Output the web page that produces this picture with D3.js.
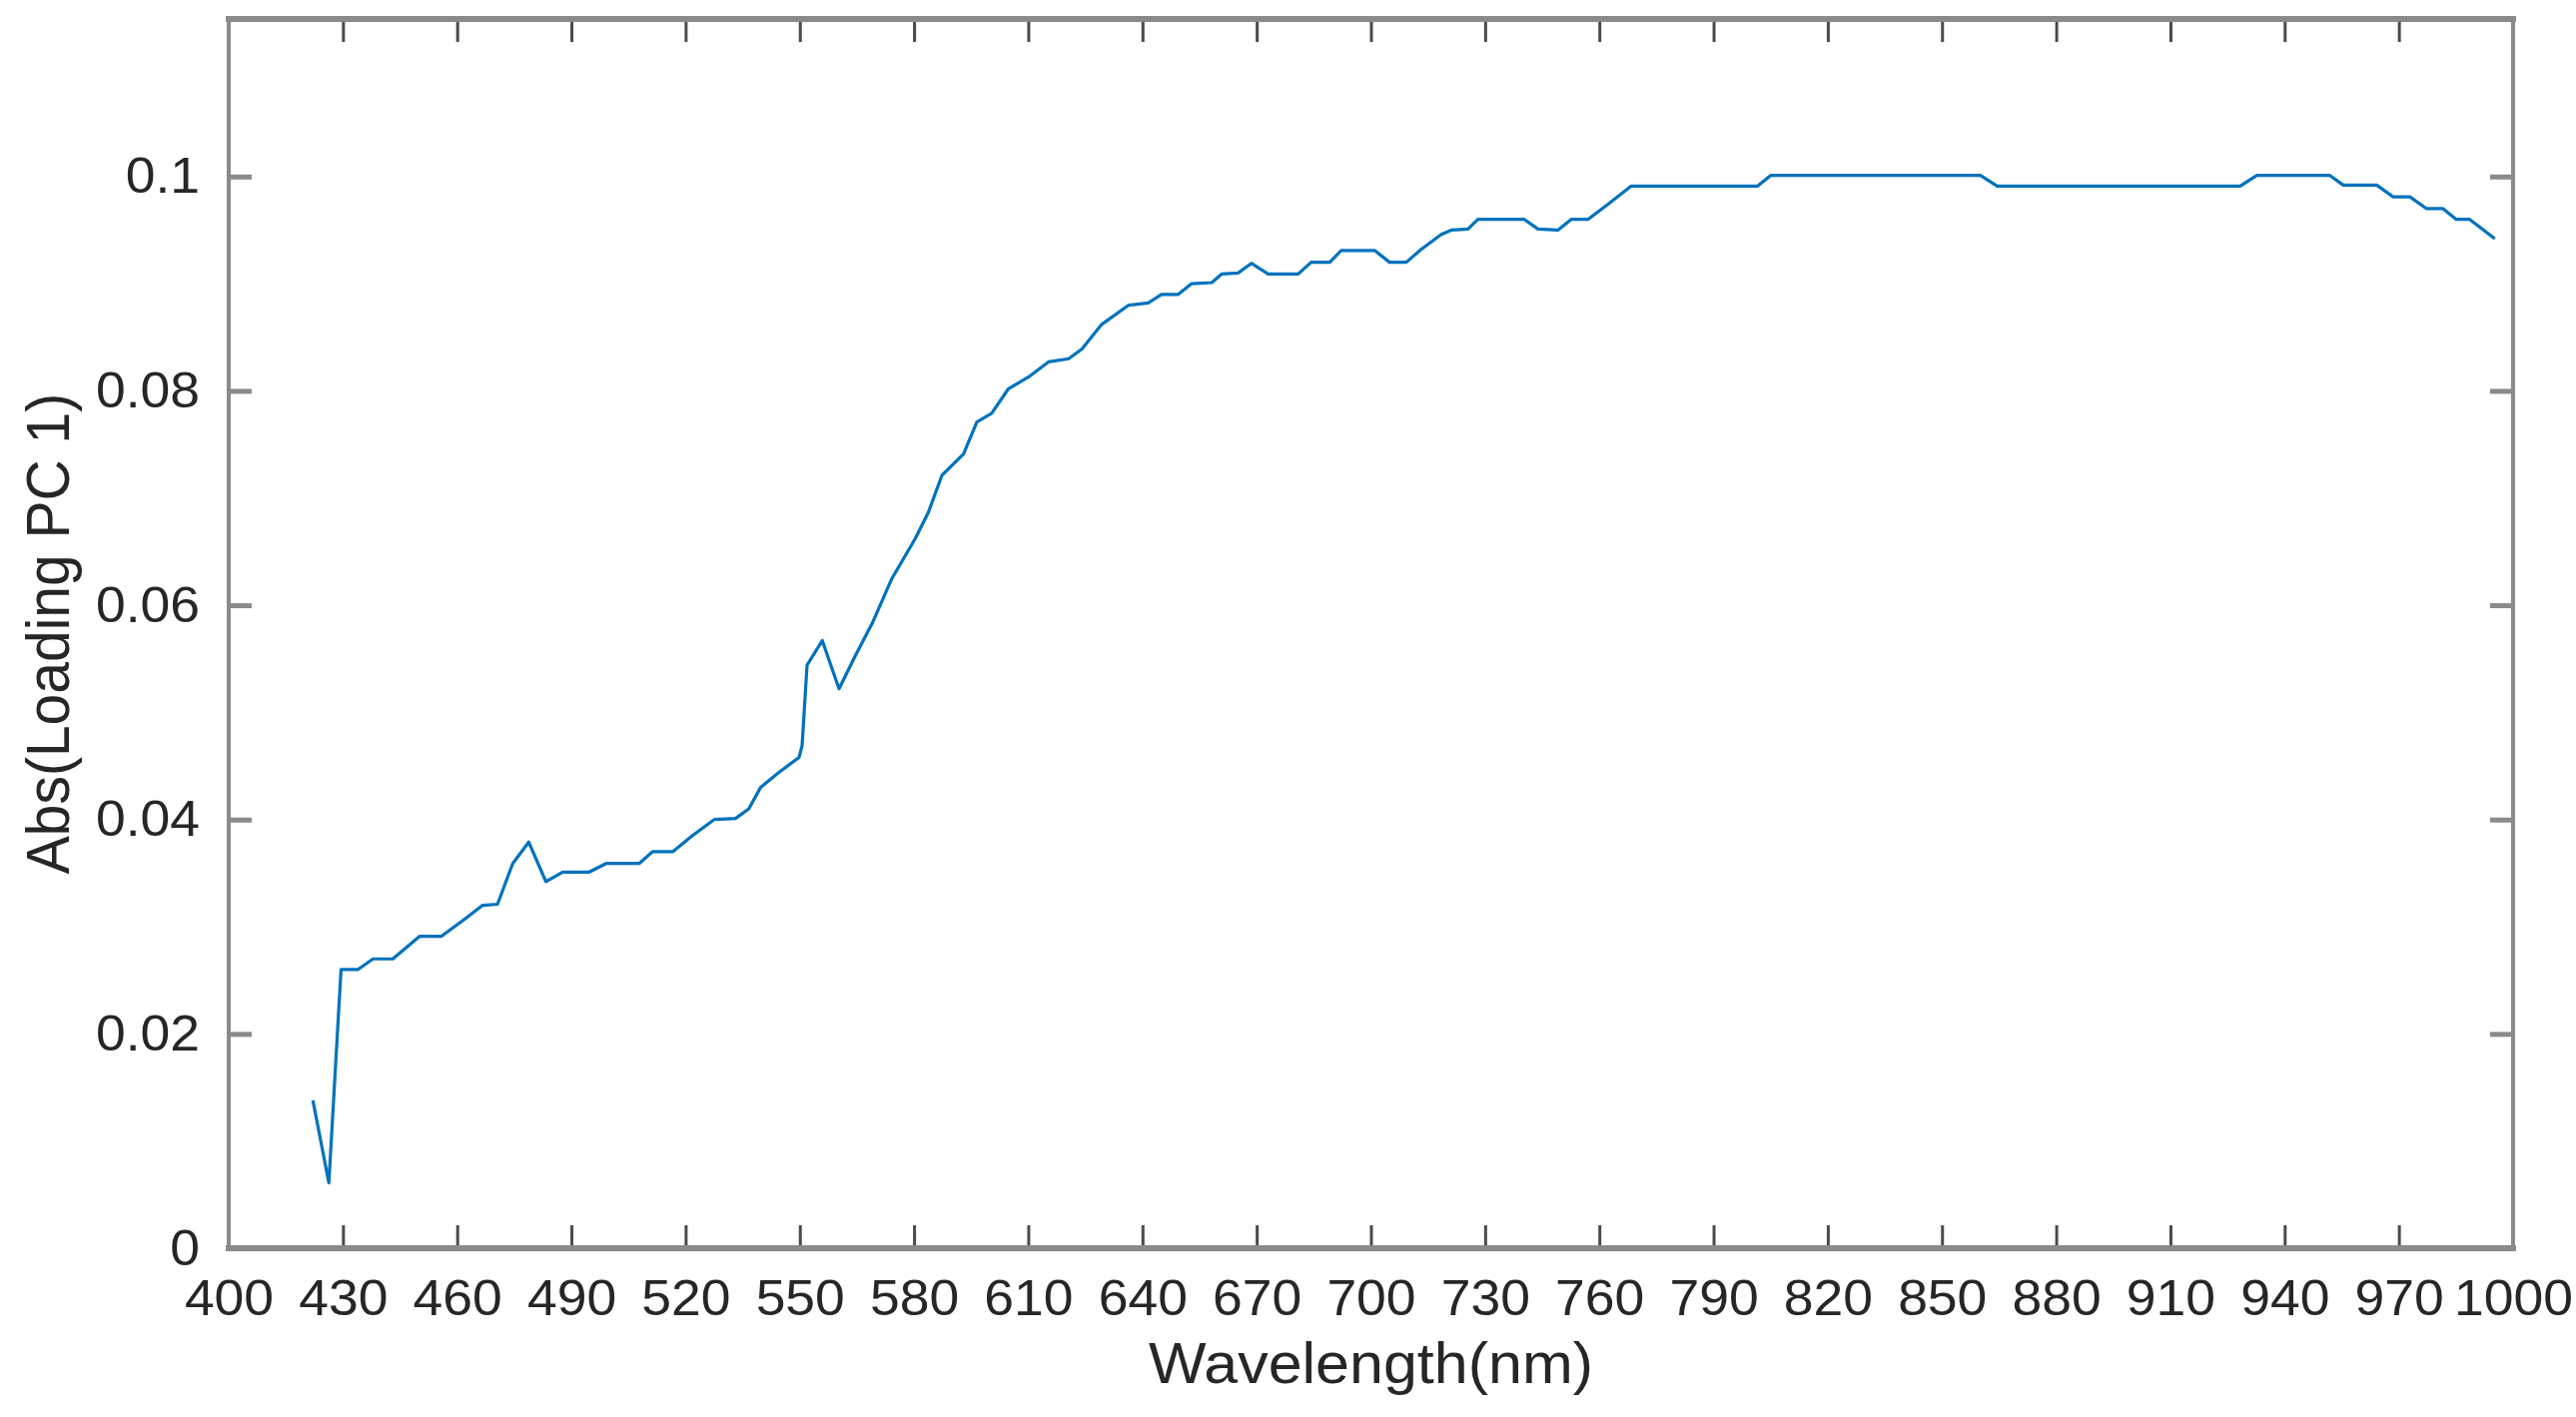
<!DOCTYPE html>
<html>
<head>
<meta charset="utf-8">
<script src="https://cdn.jsdelivr.net/npm/d3@7"></script>
<style>
  html, body { margin: 0; padding: 0; background: #ffffff; }
  svg { display: block; }
  text { font-family: "Liberation Sans", Arial, Helvetica, sans-serif; }
</style>
</head>
<body>
<svg id="chart" width="2579" height="1419"></svg>
<script>
// ---- data ----
const wavelengths = [
  422.1, 426.3, 429.5, 433.9, 437.9, 443.1, 450.1, 455.8, 462.3, 466.7,
  470.6, 474.6, 478.8, 483.3, 487.7, 494.7, 499.1, 507.8, 511.3, 516.6,
  521.8, 527.5, 533.1, 536.6, 539.7, 544.5, 549.8, 550.6, 551.9, 555.9,
  560.3, 564.6, 569.0, 574.2, 580.3, 583.8, 587.3, 593.0, 596.5, 600.4,
  604.8, 610.1, 615.3, 620.6, 624.1, 629.3, 636.4, 641.5, 645.0, 649.4,
  652.9, 658.2, 660.8, 665.1, 668.6, 673.0, 680.9, 684.3, 689.2, 692.2,
  701.0, 704.9, 709.3, 713.2, 718.5, 721.1, 725.5, 728.1, 740.3, 743.9,
  749.1, 752.6, 757.0, 762.2, 768.3, 801.5, 805.0, 860.1, 864.5, 928.3,
  932.7, 951.9, 955.4, 964.2, 968.5, 972.9, 977.3, 981.6, 985.1, 988.6,
  995.2
];
const loadings = [
  0.0138, 0.0061, 0.0260, 0.0260, 0.0270, 0.0270, 0.0291, 0.0291, 0.0308, 0.0320,
  0.0321, 0.0359, 0.0379, 0.0342, 0.0351, 0.0351, 0.0359, 0.0359, 0.0370, 0.0370,
  0.0385, 0.0400, 0.0401, 0.0410, 0.0430, 0.0444, 0.0458, 0.0469, 0.0544, 0.0567,
  0.0522, 0.0553, 0.0583, 0.0625, 0.0662, 0.0687, 0.0721, 0.0741, 0.0771, 0.0779,
  0.0802, 0.0813, 0.0827, 0.0830, 0.0839, 0.0862, 0.0880, 0.0882, 0.0890, 0.0890,
  0.0900, 0.0901, 0.0909, 0.0910, 0.0919, 0.0909, 0.0909, 0.0920, 0.0920, 0.0931,
  0.0931, 0.0920, 0.0920, 0.0932, 0.0946, 0.0950, 0.0951, 0.0960, 0.0960, 0.0951,
  0.0950, 0.0960, 0.0960, 0.0974, 0.0991, 0.0991, 0.1001, 0.1001, 0.0991, 0.0991,
  0.1001, 0.1001, 0.0992, 0.0992, 0.0981, 0.0981, 0.0970, 0.0970, 0.0960, 0.0960,
  0.0942
];
const xTicks = [400, 430, 460, 490, 520, 550, 580, 610, 640, 670, 700,
                730, 760, 790, 820, 850, 880, 910, 940, 970, 1000];
const yTicks = [0, 0.02, 0.04, 0.06, 0.08, 0.1];
const yTickLabels = ["0", "0.02", "0.04", "0.06", "0.08", "0.1"];
const xDomain = [400, 1000];
const yDomain = [0, 0.1147];
const xTitle = "Wavelength(nm)";
const yTitle = "Abs(Loading PC 1)";

// ---- layout ----
const mLeft = 229, mRight = 2516, mTop = 19, mBottom = 1250;
const tickLen = 23;
const frameColor = "#8a8a8a";
const textColor = "#262626";
const stretch = 1.07;

const svg = d3.select("#chart");
svg.append("rect").attr("width", 2579).attr("height", 1419).attr("fill", "#fff");

const x = d3.scaleLinear().domain(xDomain).range([mLeft, mRight]);
const y = d3.scaleLinear().domain(yDomain).range([mBottom, mTop]);

const points = wavelengths.map((w, i) => ({ w, v: loadings[i] }));

// data line
svg.append("path")
  .datum(points)
  .attr("fill", "none")
  .attr("stroke", "#0072BD")
  .attr("stroke-width", 3.2)
  .attr("stroke-linejoin", "round")
  .attr("d", d3.line().x(d => x(d.w)).y(d => y(d.v)));

// bottom axis with labels
const gx = svg.append("g").attr("transform", `translate(0,${mBottom})`)
  .call(d3.axisBottom(x).tickValues(xTicks).tickFormat(d3.format("d"))
    .tickSizeInner(-tickLen).tickSizeOuter(0).tickPadding(32));
gx.select(".domain").remove();
gx.selectAll(".tick line").attr("stroke", "#4a4a4a").attr("stroke-width", 3);
gx.selectAll(".tick text").attr("font-size", 50).attr("fill", textColor)
  .attr("transform", `scale(${stretch},1)`);

// top axis ticks
const gt = svg.append("g").attr("transform", `translate(0,${mTop})`)
  .call(d3.axisTop(x).tickValues(xTicks).tickFormat("")
    .tickSizeInner(-tickLen).tickSizeOuter(0));
gt.select(".domain").remove();
gt.selectAll(".tick line").attr("stroke", "#4a4a4a").attr("stroke-width", 3);

// left axis with labels
const gy = svg.append("g").attr("transform", `translate(${mLeft},0)`)
  .call(d3.axisLeft(y).tickValues(yTicks).tickFormat((d, i) => yTickLabels[i])
    .tickSizeInner(-tickLen).tickSizeOuter(0).tickPadding(27));
gy.select(".domain").remove();
gy.selectAll(".tick line").attr("stroke", frameColor).attr("stroke-width", 5);
gy.selectAll(".tick text").attr("font-size", 50).attr("fill", textColor)
  .attr("transform", `scale(${stretch},1)`);

// right axis ticks
const gr = svg.append("g").attr("transform", `translate(${mRight},0)`)
  .call(d3.axisRight(y).tickValues(yTicks).tickFormat("")
    .tickSizeInner(-tickLen).tickSizeOuter(0));
gr.select(".domain").remove();
gr.selectAll(".tick line").attr("stroke", frameColor).attr("stroke-width", 5);

// frame box
const frame = svg.append("g").attr("stroke", frameColor).attr("stroke-linecap", "square");
frame.append("line").attr("x1", mLeft).attr("x2", mRight).attr("y1", mTop).attr("y2", mTop).attr("stroke-width", 6);
frame.append("line").attr("x1", mLeft).attr("x2", mRight).attr("y1", mBottom).attr("y2", mBottom).attr("stroke-width", 6);
frame.append("line").attr("x1", mLeft).attr("x2", mLeft).attr("y1", mTop).attr("y2", mBottom).attr("stroke-width", 4);
frame.append("line").attr("x1", mRight).attr("x2", mRight).attr("y1", mTop).attr("y2", mBottom).attr("stroke-width", 4);

// axis titles
svg.append("text")
  .attr("transform", `translate(${(mLeft + mRight) / 2},1385) scale(${stretch},1)`)
  .attr("text-anchor", "middle")
  .attr("font-size", 57)
  .attr("fill", textColor)
  .text(xTitle);

svg.append("text")
  .attr("transform", `translate(69,${(mTop + mBottom) / 2}) scale(${stretch},1) rotate(-90)`)
  .attr("text-anchor", "middle")
  .attr("font-size", 57)
  .attr("fill", textColor)
  .text(yTitle);
</script>
</body>
</html>
